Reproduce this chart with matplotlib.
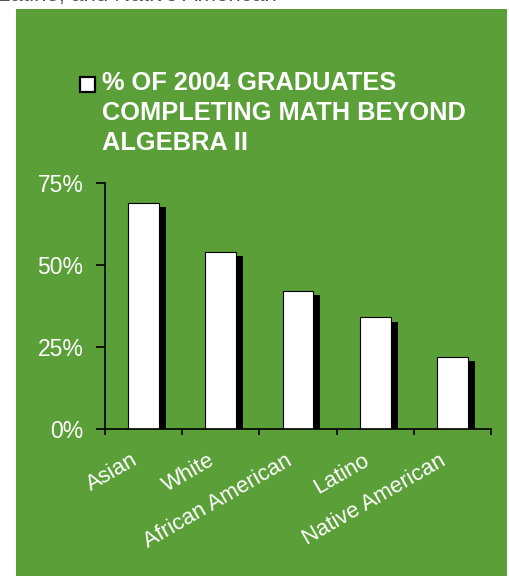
import numpy as np
import matplotlib.pyplot as plt
import matplotlib.patheffects as pe
import matplotlib.transforms as mtransforms
from matplotlib.patches import Rectangle

plt.rcParams['font.family'] = ['Liberation Sans', 'DejaVu Sans']

# data
groups = ['Asian', 'White', 'African American', 'Latino', 'Native American']
pct_math = [69, 54, 42, 34, 22]
y_ticks = [0, 25, 50, 75]
y_labels = ['0%', '25%', '50%', '75%']
legend_text = '% OF 2004 GRADUATES\nCOMPLETING MATH BEYOND\nALGEBRA II'

green = '#5b9f39'

fig = plt.figure(figsize=(5.10, 5.76), dpi=100)
fig.patch.set_facecolor('white')

# green panel behind the chart
fig.patches.append(Rectangle((16/510, 0), (507-16)/510, (576-9)/576,
                             transform=fig.transFigure, facecolor=green,
                             edgecolor='none', zorder=-5))

# cut-off caption line from the page above
fig.text(-0.004, 1 - 1/576, 'Latino, and Native American', color='#555555',
         fontsize=16, va='baseline', ha='left')

ax = fig.add_axes([105/510, (576-429)/576, 386/510, 246/576])
ax.set_facecolor('none')
ax.set_zorder(2)

x = np.arange(len(groups))
bars = ax.bar(x, pct_math, width=0.40, color='white', edgecolor='black',
              linewidth=0.8, zorder=2)
for b in bars:
    b.set_path_effects([pe.SimplePatchShadow(offset=(5, -3), shadow_rgbFace='black',
                                             alpha=1.0), pe.Normal()])

ax.set_xlim(-0.5, len(groups) - 0.5)
ax.set_ylim(0, 75)

for side in ['top', 'right']:
    ax.spines[side].set_visible(False)
for side in ['left', 'bottom']:
    ax.spines[side].set_linewidth(1.2)
    ax.spines[side].set_color('black')
    ax.spines[side].set_zorder(3)

ax.set_yticks(y_ticks)
ax.set_yticklabels(y_labels, color='white', fontsize=16.5)
ax.tick_params(axis='y', direction='out', length=6.5, width=1.2, pad=9, color='black')

ax.set_xticks(np.arange(-0.5, len(groups)), minor=True)
ax.tick_params(axis='x', which='minor', direction='out', length=4.5, width=1.2,
               color='black')
ax.set_xticks(x)
ax.set_xticklabels(groups, rotation=30, ha='right', rotation_mode='anchor',
                   color='white', fontsize=15.9)
ax.tick_params(axis='x', which='major', length=0, pad=15)
shift = mtransforms.ScaledTranslation(-13/100, 0, fig.dpi_scale_trans)
for lab in ax.get_xticklabels():
    lab.set_transform(lab.get_transform() + shift)

# legend: white box and bold heading
fig.patches.append(Rectangle((80.5/510, 1 - 92/576), 15/510, 15/576,
                             transform=fig.transFigure, facecolor='white',
                             edgecolor='black', linewidth=1.6, zorder=3))
fig.text(102/510, 1 - 71/576, legend_text, color='white', fontsize=18.3,
         fontweight='bold', va='top', ha='left', linespacing=1.32)

fig.savefig('out.png', dpi=100, facecolor='white')
